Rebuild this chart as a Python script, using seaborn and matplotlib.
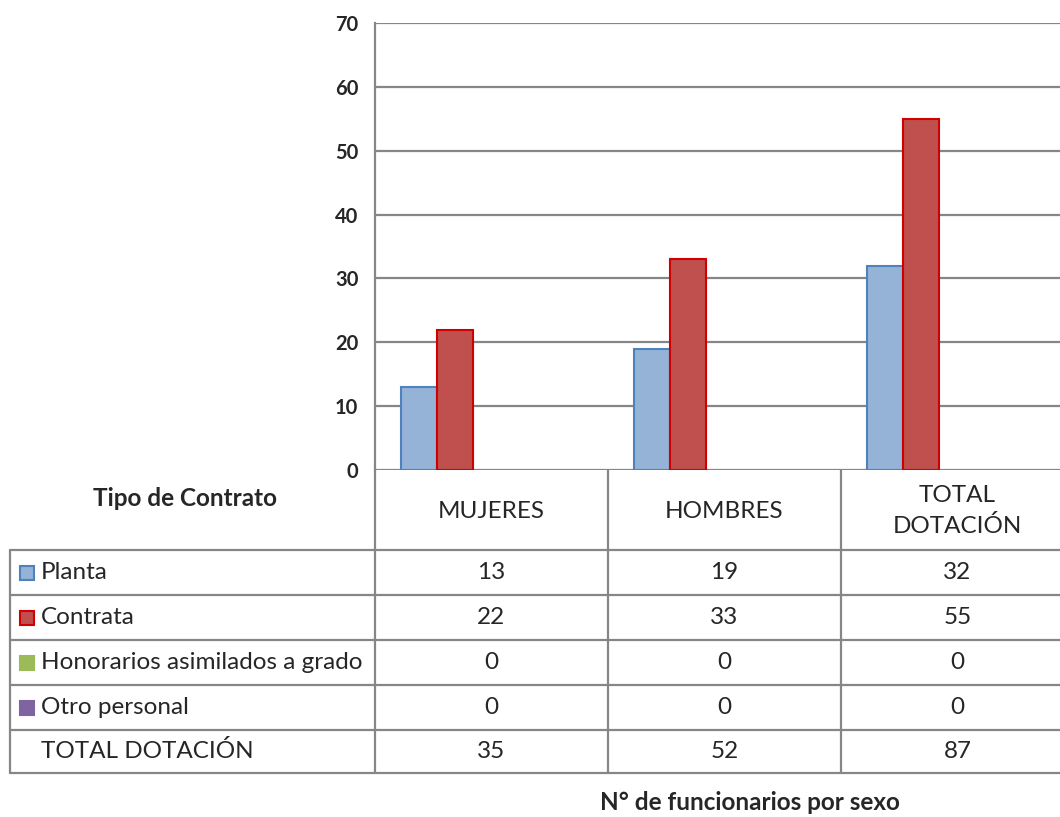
import numpy as np
import pandas as pd
import matplotlib
matplotlib.use("Agg")
import matplotlib.pyplot as plt
import seaborn as sns
from matplotlib.patches import Rectangle

# Datos
categorias = ["MUJERES", "HOMBRES", "TOTAL\nDOTACIÓN"]
series = ["Planta", "Contrata", "Honorarios asimilados a grado", "Otro personal", "TOTAL DOTACIÓN"]
planta = [13, 19, 32]
contrata = [22, 33, 55]
honorarios = [0, 0, 0]
otro = [0, 0, 0]
total = [35, 52, 87]
valores = [planta, contrata, honorarios, otro, total]

relleno = ["#95B3D7", "#C0504D", "#9BBB59", "#8064A2", "#FFFFFF"]
borde = ["#4F81BD", "#D00000", "#9BBB59", "#8064A2", "#FFFFFF"]

sns.set_style("white")
plt.rcParams['font.family'] = ['Lato', 'DejaVu Sans']

df = pd.DataFrame([(c, s, v[i]) for s, v in zip(series, valores) for i, c in enumerate(categorias)],
                  columns=["cat", "serie", "valor"])

W, H = 1060, 817
fig = plt.figure(figsize=(W / 100, H / 100), dpi=100)

# capa en pixeles para la tabla
bg = fig.add_axes([0, 0, 1, 1])
bg.set_xlim(0, W)
bg.set_ylim(H, 0)
bg.axis("off")

# el grafico original queda cortado por la derecha
x0, x1, y0, y1 = 375, 1074, 470, 23
ax = fig.add_axes([x0 / W, (H - y0) / H, (x1 - x0) / W, (y0 - y1) / H])
sns.barplot(data=df, x="cat", y="valor", hue="serie", hue_order=series, order=categorias,
            palette=relleno, width=0.78, legend=False, ax=ax, saturation=1)

# bordes de cada serie; los ceros y el total no se dibujan
for cont, s, ec in zip(ax.containers, series, borde):
    for bar in cont:
        bar.set_edgecolor(ec)
        bar.set_linewidth(1.5)
        if s == "TOTAL DOTACIÓN" or bar.get_height() == 0:
            bar.set_visible(False)

ax.set_ylim(0, 70)
ax.set_xlim(-0.5, 2.5)
ax.set_yticks(np.arange(0, 71, 10))
ax.yaxis.grid(True, color="#868686", linewidth=1.6)
ax.set_axisbelow(True)
ax.set_xticks([])
ax.set_xlabel("")
ax.set_ylabel("")
for side in ["top", "right", "bottom"]:
    ax.spines[side].set_visible(False)
ax.spines["left"].set_color("#868686")
ax.spines["left"].set_linewidth(1.6)
ax.tick_params(axis="y", length=7, width=1.6, color="#868686", direction="out",
               labelsize=14.5, pad=5)
for t in ax.get_yticklabels():
    t.set_fontweight("bold")

# tabla de datos
lc = "#868686"
filas = [550, 595, 640, 685, 730, 773]
cols = [375, 608, 841, 1074]
for y in filas:
    bg.plot([10, W], [y, y], color=lc, lw=1.6)
bg.plot([10, 10], [550, 773], color=lc, lw=1.6)
for x in cols[:3]:
    bg.plot([x, x], [470, 773], color=lc, lw=1.6)

fs = 17.5
for i, c in enumerate(categorias):
    cx = (cols[i] + cols[i + 1]) / 2
    bg.text(cx, 511, c, ha="center", va="center", fontsize=fs, linespacing=1.55)
    for j, v in enumerate(valores):
        cy = (filas[j] + filas[j + 1]) / 2
        bg.text(cx, cy, str(v[i]), ha="center", va="center", fontsize=fs)

for j, s in enumerate(series):
    cy = (filas[j] + filas[j + 1]) / 2
    if j < 4:
        bg.add_patch(Rectangle((20, cy - 7), 14, 14, facecolor=relleno[j], edgecolor=borde[j], lw=1.5))
    bg.text(41, cy, s, ha="left", va="center", fontsize=fs)

bg.text(185, 498, "Tipo de Contrato", ha="center", va="center", fontsize=17.5, fontweight="bold")
bg.text(750, 803, "N° de funcionarios por sexo", ha="center", va="center", fontsize=17.5, fontweight="bold")

fig.savefig("out.png", dpi=100)
